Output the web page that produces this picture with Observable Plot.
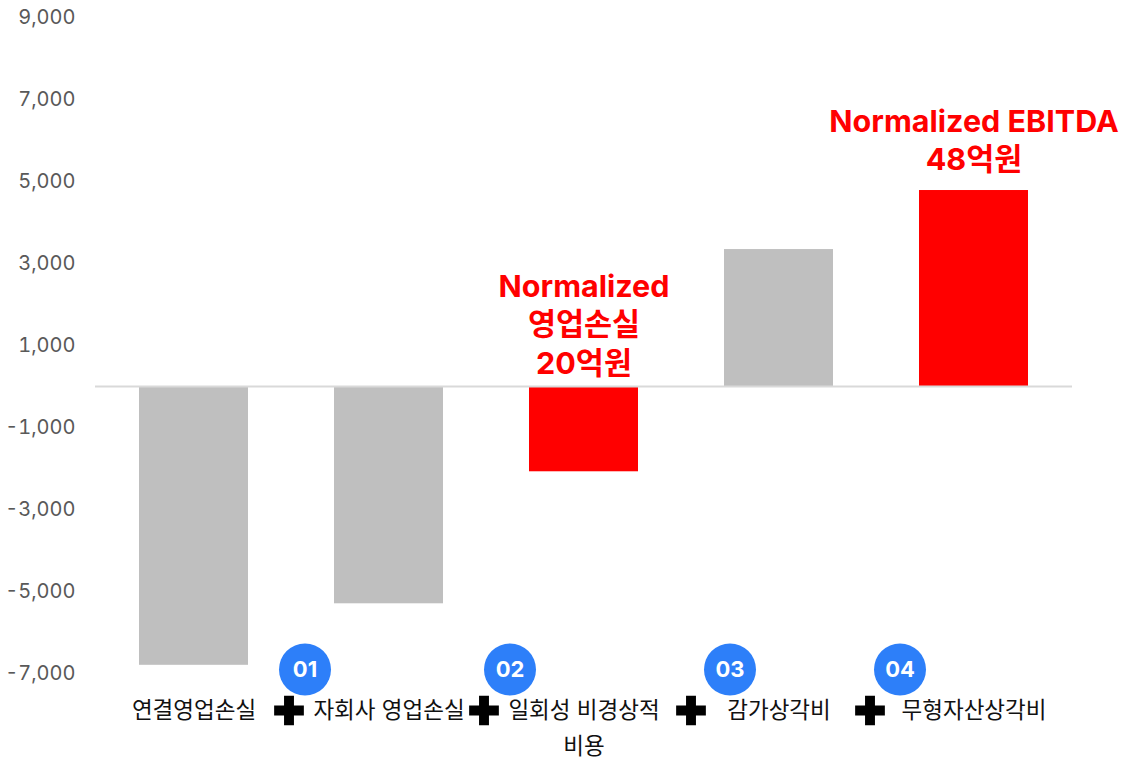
<!DOCTYPE html>
<html><head><meta charset="utf-8">
<script src="https://cdn.jsdelivr.net/npm/d3@7"></script>
<script src="https://cdn.jsdelivr.net/npm/@observablehq/plot@0.6"></script>
<style>html,body{margin:0;padding:0;background:#fff;overflow:hidden}</style>
</head><body><div id="chart"></div>
<script>
// ---- data ----
const categories = ["연결영업손실", "자회사 영업손실", "일회성 비경상적\n비용", "감가상각비", "무형자산상각비"];
const values = [-6800, -5300, -2080, 3340, 4780];
const highlighted = [false, false, true, false, true];
const barLabels = ["", "", "Normalized\n영업손실\n20억원", "", "Normalized EBITDA\n48억원"];
const stepNumbers = ["01", "02", "03", "04"];
const yTicks = [-7000, -5000, -3000, -1000, 1000, 3000, 5000, 7000, 9000];

const rows = categories.map((c, i) => ({category: c, value: values[i], hi: highlighted[i], label: barLabels[i]}));

// ---- layout ----
const FONT = "Inter, Roboto, 'Noto Sans CJK KR', sans-serif";
const plusDx = [-100, -100, -88, -104];
const circleDx = [-84, -74, -49, -74];

const stepMarks = [];
stepNumbers.forEach((s, i) => {
  const target = categories[i + 1];
  stepMarks.push(
    Plot.dot([s], {x: () => target, frameAnchor: "bottom", dy: 37, dx: plusDx[i], symbol: "cross", r: 12.5, fill: "#000"}),
    Plot.dot([s], {x: () => target, frameAnchor: "bottom", dy: -4, dx: circleDx[i], r: 26, fill: "#2d7ff9"}),
    Plot.text([s], {x: () => target, text: d => d, frameAnchor: "bottom", lineAnchor: "middle", dy: -4, dx: circleDx[i], fill: "#fff", fontSize: 22, fontWeight: 700})
  );
});

const chart = Plot.plot({
  width: 1125,
  height: 757,
  marginLeft: 95,
  marginRight: 53,
  marginTop: 17,
  marginBottom: 84,
  style: {fontFamily: FONT, background: "#fff", overflow: "visible"},
  x: {domain: categories, paddingInner: 0.44, paddingOuter: 0.22, axis: null},
  y: {domain: [-7000, 9000], axis: null},
  marks: [
    Plot.barY(rows, {x: "category", y: "value", fill: d => d.hi ? "#ff0000" : "#bfbfbf"}),
    Plot.ruleY([0], {stroke: "#d9d9d9", strokeWidth: 2}),
    Plot.axisY({ticks: yTicks, tickSize: 0, tickPadding: 20, fontSize: 20, fill: "#595959", tickFormat: d => d.toLocaleString("en-US"), label: null}),
    Plot.text(rows.filter(d => d.label && d.value < 0), {x: "category", y: 0, text: "label", lineAnchor: "bottom", dy: -13, fill: "#ff0000", fontSize: 30.5, fontWeight: 700, lineHeight: 1.26}),
    Plot.text(rows.filter(d => d.label && d.value > 0), {x: "category", y: "value", text: "label", lineAnchor: "bottom", dy: -21, fill: "#ff0000", fontSize: 30.5, fontWeight: 700, lineHeight: 1.22}),
    Plot.text(rows, {x: "category", text: "category", frameAnchor: "bottom", lineAnchor: "top", dy: 19, fontSize: 22.5, lineHeight: 1.6, fill: "#111"}),
    ...stepMarks
  ]
});
document.getElementById("chart").appendChild(chart);
</script>
</body></html>
